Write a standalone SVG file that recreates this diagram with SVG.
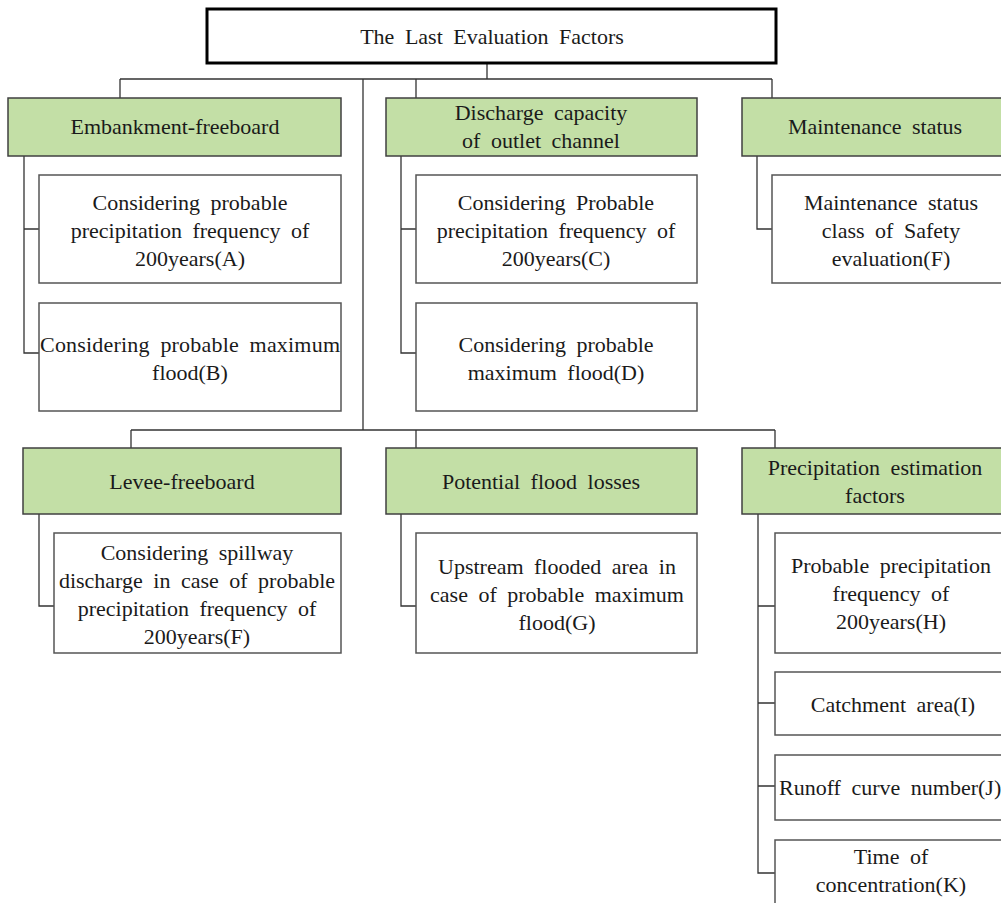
<svg xmlns="http://www.w3.org/2000/svg" width="1001" height="903" viewBox="0 0 1001 903">
<style>
text{font-family:"Liberation Serif","Times New Roman",serif;font-size:22px;fill:#1a1a1a;word-spacing:5px;text-anchor:middle}
.g{fill:#c3dfa6;stroke:#404040;stroke-width:1.5}
.c{fill:#fff;stroke:#555;stroke-width:1.5}
.t{fill:#fff;stroke:#000;stroke-width:3}
#connectors path{fill:none;stroke:#333;stroke-width:1.3}
</style>
<rect width="1001" height="903" fill="#fff"/>
<g id="connectors">
<path d="M487 63V79M120 79H772M120 79V98M416 79V98M772 79V98M363 79V430"/>
<path d="M131 430H775M131 430V448M416 430V448M775 430V448"/>
<path d="M24 156V353H39M24 229H39"/>
<path d="M401 156V353H416M401 229H416"/>
<path d="M757 156V229H772"/>
<path d="M39 514V606H54"/>
<path d="M401 514V606H416"/>
<path d="M758 514V873H775M758 606H775M758 703H775M758 786H775"/>
</g>
<g id="root"><rect class="t" x="207" y="9" width="569" height="54"/><text x="492" y="44">The Last Evaluation Factors</text></g>
<g id="embankment"><rect class="g" x="8" y="98" width="333" height="58"/><text x="175" y="134">Embankment-freeboard</text></g>
<g id="discharge"><rect class="g" x="386" y="98" width="311" height="58"/><text x="541" y="120">Discharge capacity</text><text x="541" y="148">of outlet channel</text></g>
<g id="maintenance"><rect class="g" x="742" y="98" width="270" height="58"/><text x="875" y="134">Maintenance status</text></g>
<g id="nodeA"><rect class="c" x="39" y="175" width="302" height="108"/><text x="190" y="210">Considering probable</text><text x="190" y="238">precipitation frequency of</text><text x="190" y="266">200years(A)</text></g>
<g id="nodeB"><rect class="c" x="39" y="303" width="302" height="108"/><text x="40" y="352" textLength="300" lengthAdjust="spacing" style="text-anchor:start">Considering probable maximum</text><text x="190" y="380">flood(B)</text></g>
<g id="nodeC"><rect class="c" x="416" y="175" width="281" height="108"/><text x="556" y="210">Considering Probable</text><text x="556" y="238">precipitation frequency of</text><text x="556" y="266">200years(C)</text></g>
<g id="nodeD"><rect class="c" x="416" y="303" width="281" height="108"/><text x="556" y="352">Considering probable</text><text x="556" y="380">maximum flood(D)</text></g>
<g id="nodeF1"><rect class="c" x="772" y="175" width="240" height="108"/><text x="891" y="210">Maintenance status</text><text x="891" y="238">class of Safety</text><text x="891" y="266">evaluation(F)</text></g>
<g id="levee"><rect class="g" x="23" y="448" width="318" height="66"/><text x="182" y="489">Levee-freeboard</text></g>
<g id="potential"><rect class="g" x="386" y="448" width="311" height="66"/><text x="541" y="489">Potential flood losses</text></g>
<g id="precip"><rect class="g" x="742" y="448" width="270" height="66"/><text x="875" y="475">Precipitation estimation</text><text x="875" y="503">factors</text></g>
<g id="nodeF2"><rect class="c" x="54" y="533" width="287" height="120"/><text x="197" y="560">Considering spillway</text><text x="197" y="588">discharge in case of probable</text><text x="197" y="616">precipitation frequency of</text><text x="197" y="644">200years(F)</text></g>
<g id="nodeG"><rect class="c" x="416" y="533" width="281" height="120"/><text x="557" y="574">Upstream flooded area in</text><text x="557" y="602">case of probable maximum</text><text x="557" y="630">flood(G)</text></g>
<g id="nodeH"><rect class="c" x="775" y="533" width="237" height="120"/><text x="891" y="573">Probable precipitation</text><text x="891" y="601">frequency of</text><text x="891" y="629">200years(H)</text></g>
<g id="nodeI"><rect class="c" x="775" y="672" width="237" height="63"/><text x="893" y="712">Catchment area(I)</text></g>
<g id="nodeJ"><rect class="c" x="775" y="755" width="237" height="65"/><text x="779" y="795" style="text-anchor:start">Runoff curve number(J)</text></g>
<g id="nodeK"><rect class="c" x="775" y="840" width="237" height="80"/><text x="891" y="864">Time of</text><text x="891" y="892">concentration(K)</text></g>
</svg>
